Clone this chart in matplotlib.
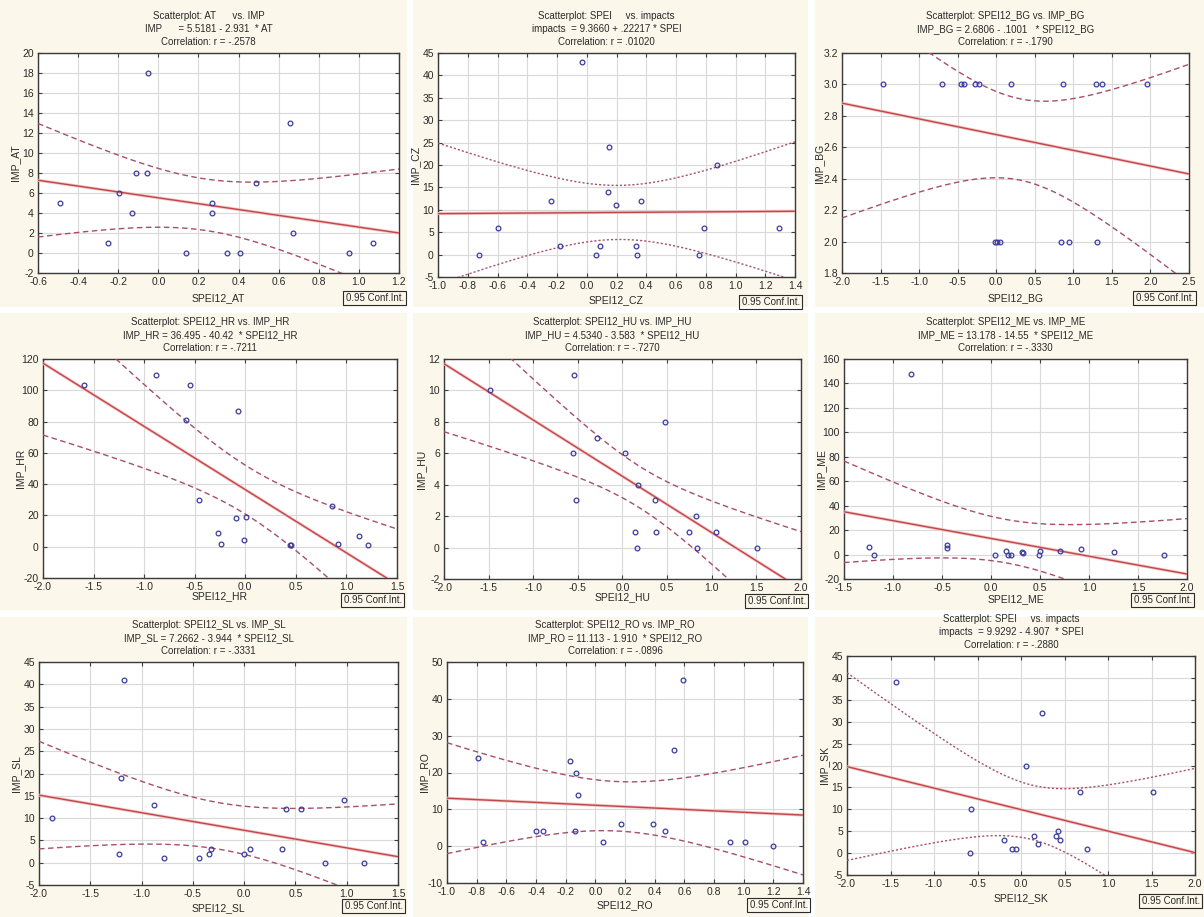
import numpy as np
import matplotlib
matplotlib.use("Agg")
import matplotlib.pyplot as plt
from matplotlib.patches import Rectangle
from matplotlib.ticker import FormatStrFormatter, MultipleLocator

plt.rcParams['font.family'] = ['Liberation Sans', 'DejaVu Sans']

# ---------------- data ----------------
at_x = [-0.49, -0.25, -0.195, -0.13, -0.11, -0.055, -0.05, 0.14, 0.27, 0.27, 0.34, 0.405, 0.487, 0.655, 0.67, 0.95, 1.07]
at_y = [5, 1, 6, 4, 8, 8, 18, 0, 4, 5, 0, 0, 7, 13, 2, 0, 1]

cz_x = [-0.727, -0.60, -0.24, -0.18, -0.03, 0.06, 0.09, 0.14, 0.148, 0.198, 0.33, 0.335, 0.363, 0.755, 0.79, 0.874, 1.29]
cz_y = [0, 6, 12, 2, 43, 0, 2, 14, 24, 11, 2, 0, 12, 0, 6, 20, 6]

bg_x = [-1.47, -0.70, -0.456, -0.42, -0.27, -0.22, 0.19, 0.865, 1.29, 1.37, 1.96,
        -0.02, 0.01, 0.05, 0.84, 0.94, 1.31]
bg_y = [3, 3, 3, 3, 3, 3, 3, 3, 3, 3, 3, 2, 2, 2, 2, 2, 2]

hr_x = [-1.59, -0.887, -0.55, -0.59, -0.07, -0.455, -0.09, 0.003, -0.27, -0.245, -0.01, 0.446, 0.455, 0.855, 0.915, 1.12, 1.21]
hr_y = [103.5, 110, 103.5, 81, 87, 29.6, 18.5, 19, 9, 1.7, 4, 1, 1, 25.8, 1.7, 6.8, 1]

hu_x = [-1.48, -0.54, -0.29, -0.56, 0.03, 0.48, 0.17, -0.52, 0.36, 0.82, 0.14, 0.37, 0.74, 1.05, 0.16, 0.83, 1.51]
hu_y = [10, 11, 7, 6, 6, 8, 4, 3, 3, 2, 1, 1, 1, 1, 0, 0, 0]

me_x = [-0.82, -1.24, -1.19, -0.45, -0.45, 0.04, 0.15, 0.17, 0.20, 0.32, 0.33, 0.49, 0.50, 0.70, 0.92, 1.25, 1.77]
me_y = [147.5, 6.3, 0, 7.6, 5.5, 0, 3.3, 0, 0, 2.2, 1.4, 0, 3, 3.3, 4.4, 2.5, 0]

sl_x = [-1.876, -1.17, -1.20, -0.875, -1.22, -0.78, -0.44, -0.34, -0.32, -0.003, 0.06, 0.37, 0.41, 0.55, 0.79, 0.97, 1.17]
sl_y = [10, 41, 19, 13, 2, 1, 1, 2, 3, 2, 3, 3, 12, 12, 0, 14, 0]

ro_x = [-0.79, -0.76, -0.40, -0.35, -0.17, -0.13, -0.12, -0.14, 0.05, 0.17, 0.39, 0.47, 0.53, 0.59, 0.905, 1.01, 1.20]
ro_y = [24, 1, 4, 4, 23, 20, 14, 4, 1, 6, 6, 4, 26, 45, 1, 1, 0]

sk_x = [-1.44, -0.58, -0.59, -0.19, -0.10, -0.06, 0.06, 0.15, 0.19, 0.24, 0.40, 0.42, 0.45, 0.68, 0.76, 1.52]
sk_y = [39, 10, 0, 3, 1, 1, 20, 4, 2, 32, 4, 5, 3, 14, 1, 14]

intercepts = [5.5181, 9.3660, 2.6806, 36.495, 4.5340, 13.178, 7.2662, 11.113, 9.9292]
slopes = [-2.931, 0.22217, -0.1001, -40.42, -3.583, -14.55, -3.944, -1.910, -4.907]

titles1 = ["Scatterplot: AT      vs. IMP",
           "Scatterplot: SPEI     vs. impacts",
           "Scatterplot: SPEI12_BG vs. IMP_BG",
           "Scatterplot: SPEI12_HR vs. IMP_HR",
           "Scatterplot: SPEI12_HU vs. IMP_HU",
           "Scatterplot: SPEI12_ME vs. IMP_ME",
           "Scatterplot: SPEI12_SL vs. IMP_SL",
           "Scatterplot: SPEI12_RO vs. IMP_RO",
           "Scatterplot: SPEI     vs. impacts"]
titles2 = ["IMP      = 5.5181 - 2.931  * AT",
           "impacts  = 9.3660 + .22217 * SPEI",
           "IMP_BG = 2.6806 - .1001   * SPEI12_BG",
           "IMP_HR = 36.495 - 40.42  * SPEI12_HR",
           "IMP_HU = 4.5340 - 3.583  * SPEI12_HU",
           "IMP_ME = 13.178 - 14.55  * SPEI12_ME",
           "IMP_SL = 7.2662 - 3.944  * SPEI12_SL",
           "IMP_RO = 11.113 - 1.910  * SPEI12_RO",
           "impacts  = 9.9292 - 4.907  * SPEI"]
titles3 = ["Correlation: r = -.2578", "Correlation: r = .01020", "Correlation: r = -.1790",
           "Correlation: r = -.7211", "Correlation: r = -.7270", "Correlation: r = -.3330",
           "Correlation: r = -.3331", "Correlation: r = -.0896", "Correlation: r = -.2880"]
xlabels = ["SPEI12_AT", "SPEI12_CZ", "SPEI12_BG", "SPEI12_HR", "SPEI12_HU", "SPEI12_ME",
           "SPEI12_SL", "SPEI12_RO", "SPEI12_SK"]
ylabels = ["IMP_AT", "IMP_CZ", "IMP_BG", "IMP_HR", "IMP_HU", "IMP_ME", "IMP_SL", "IMP_RO", "IMP_SK"]

xlims = [(-0.6, 1.2), (-1.0, 1.4), (-2.0, 2.5), (-2.0, 1.5), (-2.0, 2.0), (-1.5, 2.0), (-2.0, 1.5), (-1.0, 1.4), (-2.0, 2.0)]
ylims = [(-2, 20), (-5, 45), (1.8, 3.2), (-20, 120), (-2, 12), (-20, 160), (-5, 45), (-10, 50), (-5, 45)]
xsteps = [0.2, 0.2, 0.5, 0.5, 0.5, 0.5, 0.5, 0.2, 0.5]
ysteps = [2, 5, 0.2, 20, 2, 20, 5, 10, 5]
yfmt = ['%d', '%d', '%.1f', '%d', '%d', '%d', '%d', '%d', '%d']

xs_all = [at_x, cz_x, bg_x, hr_x, hu_x, me_x, sl_x, ro_x, sk_x]
ys_all = [at_y, cz_y, bg_y, hr_y, hu_y, me_y, sl_y, ro_y, sk_y]

# t(0.975, df)
t975 = {13: 2.160, 14: 2.145, 15: 2.131, 16: 2.120}

# ---------------- layout (pixels) ----------------
W, H = 1204, 917
axes_px = [(38, 53, 399, 273), (438, 53, 795, 277), (842, 53, 1189, 273),
           (43, 359, 397, 578), (444, 359, 801, 579), (844, 359, 1187, 579),
           (39, 662, 398, 885), (447, 662, 803, 883), (847, 656, 1195, 875)]
xlab_off = [25, 23, 25, 18, 18, 20, 23, 22, 23]
box_off = [25, 25, 25, 22, 22, 21, 21, 22, 26]
cells_x = [(0, 407), (413, 808), (815, 1204)]
cells_y = [(0, 307), (313, 610), (617, 917)]
dotted = [False, True, False, False, False, False, False, False, True]

cream = '#FBF7EA'
txt = '#2A2A2A'
fs = 7

fig = plt.figure(figsize=(W / 100, H / 100), dpi=100, facecolor='white')

for cy in cells_y:
    for cx in cells_x:
        fig.patches.append(Rectangle((cx[0] / W, 1 - cy[1] / H), (cx[1] - cx[0]) / W, (cy[1] - cy[0]) / H,
                                     transform=fig.transFigure, facecolor=cream, edgecolor='none', zorder=-10))

def fx(x):
    return x / W

def fy(y):
    return 1 - y / H

for i in range(9):
    L, T, R, B = axes_px[i]
    ax = fig.add_axes([fx(L), fy(B), (R - L) / W, (B - T) / H])
    ax.set_zorder(2)
    ax.set_facecolor('white')
    x = np.array(xs_all[i], dtype=float)
    y = np.array(ys_all[i], dtype=float)
    a, b = intercepts[i], slopes[i]
    n = len(x)
    resid = y - (a + b * x)
    s = np.sqrt(np.sum(resid ** 2) / (n - 2))
    xbar = x.mean()
    sxx = np.sum((x - xbar) ** 2)
    xx = np.linspace(xlims[i][0], xlims[i][1], 300)
    yy = a + b * xx
    hw = t975[n - 2] * s * np.sqrt(1.0 / n + (xx - xbar) ** 2 / sxx)

    ls = (0, (1.5, 1.5)) if dotted[i] else (0, (4, 2.5))
    ax.plot(xx, yy + hw, color='#A84E68', lw=1.0, ls=ls, zorder=3)
    ax.plot(xx, yy - hw, color='#A84E68', lw=1.0, ls=ls, zorder=3)
    ax.plot(xx, yy, color='#F4C4C4', lw=2.2, zorder=3, solid_capstyle='butt')
    ax.plot(xx, yy, color='#C0464A', lw=1.0, zorder=4)
    ax.plot(x, y, ls='none', marker='o', ms=3.4, mfc='none', mec='#3B3B9E', mew=0.9, zorder=5)

    ax.set_xlim(*xlims[i])
    ax.set_ylim(*ylims[i])
    ax.xaxis.set_major_locator(MultipleLocator(xsteps[i]))
    ax.yaxis.set_major_locator(MultipleLocator(ysteps[i]))
    ax.xaxis.set_major_formatter(FormatStrFormatter('%.1f'))
    ax.yaxis.set_major_formatter(FormatStrFormatter(yfmt[i]))
    ax.grid(True, color='#D9D9D9', lw=0.8, zorder=1)
    ax.set_axisbelow(True)
    ax.tick_params(direction='in', length=3, width=0.8, top=True, right=True,
                   labelsize=fs + 0.5, colors='#404040', labelcolor=txt, pad=3)
    for sp in ax.spines.values():
        sp.set_color('#3A3A3A')
        sp.set_linewidth(1.0)

    cx = (L + R) / 2 - 10
    fig.text(fx(cx), fy(T - 37), titles1[i], ha='center', va='center', fontsize=fs, color=txt)
    fig.text(fx(cx), fy(T - 24), titles2[i], ha='center', va='center', fontsize=fs, color=txt)
    fig.text(fx(cx), fy(T - 11), titles3[i], ha='center', va='center', fontsize=fs, color=txt)
    fig.text(fx((L + R) / 2), fy(B + xlab_off[i]), xlabels[i], ha='center', va='center', fontsize=fs + 0.5, color=txt)
    fig.text(fx(L - 23), fy((T + B) / 2), ylabels[i], ha='center', va='center', rotation=90, fontsize=fs + 0.5, color=txt)
    fig.text(fx(min(R + 5, 1201)), fy(B + box_off[i]), "0.95 Conf.Int.", ha='right', va='center', fontsize=fs, color=txt,
             bbox=dict(boxstyle='square,pad=0.25', facecolor='none', edgecolor='#2A2A2A', lw=0.8))

fig.savefig('out.png', dpi=100, facecolor='white')
